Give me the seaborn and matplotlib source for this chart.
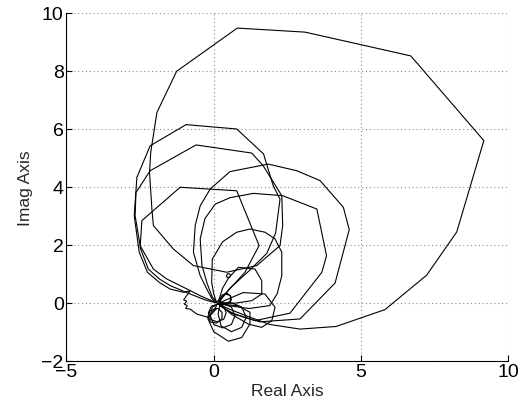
import matplotlib
matplotlib.use("Agg")
import numpy as np
import pandas as pd
import seaborn as sns
import matplotlib.pyplot as plt

# ---- traced Nyquist path pieces (Real, Imag) ----
big_re = [0.15, 0.60, 1.10, 1.90, 2.93, 4.15, 5.81, 7.23, 8.25, 9.17, 6.69, 3.10, 0.80, -1.26, -1.93,
          -2.14, -2.18, -2.10, -2.05, -1.37, -0.69, 0.44, 1.46, 2.25, 2.34, 2.31, 1.68, 1.29,
          -0.60, -2.16, -2.64, -2.67, -2.50, -2.05, -1.60, -1.14, -0.46, -0.10, 0.10]
big_im = [-0.05, -0.25, -0.45, -0.75, -0.91, -0.82, -0.24, 0.95, 2.44, 5.59, 8.51, 9.33, 9.47, 7.98, 6.56,
          5.18, 4.49, 3.23, 2.66, 1.85, 1.28, 1.05, 1.28, 1.97, 2.66, 3.69, 4.72, 5.16,
          5.44, 4.55, 3.80, 3.00, 1.97, 1.16, 0.82, 0.59, 0.24, 0.08, 0.00]

b_re = [0.20, 0.55, 1.20, 1.80, 2.10, 2.25, 2.02, 1.69, 0.78, -0.94, -2.16, -2.61, -2.70, -2.53,
        -2.25, -1.85, -1.48, -1.03, -0.80, -0.95, -1.02, -0.92, -1.00, -0.90, -0.95, -0.80, -0.58,
        -0.18, 0.10]
b_im = [0.05, 0.50, 1.10, 1.70, 2.40, 3.57, 4.03, 5.13, 5.99, 6.14, 5.41, 4.32, 3.00, 1.74,
        1.05, 0.70, 0.47, 0.36, 0.41, 0.20, 0.10, 0.05, -0.05, -0.10, -0.20, -0.22, -0.39,
        -0.51, -0.20]

d_re = [0.10, 0.44, 1.06, 1.54, 0.78, -1.14, -2.44, -2.50, -2.22, -1.85, -1.48, -0.80, -0.30, 0.05]
d_im = [0.02, 0.36, 1.05, 1.97, 3.86, 3.98, 2.83, 1.90, 1.16, 0.82, 0.59, 0.30, 0.10, 0.00]

e_re = [0.10, -0.05, -0.20, -0.46, -0.69, -0.63, -0.46, -0.12, 0.55, 1.85, 2.82, 3.61, 4.40, 4.60,
        4.12, 2.93, 1.57, 0.70, 0.20]
e_im = [0.00, 0.12, 0.40, 0.93, 1.74, 2.66, 3.34, 3.92, 4.52, 4.78, 4.55, 4.21, 3.29, 2.52,
        0.68, -0.56, -0.66, -0.40, -0.10]

f_re = [0.10, -0.05, -0.22, -0.40, -0.46, -0.30, 0.05, 0.55, 1.35, 2.34, 3.50, 3.83, 3.67, 2.59,
        1.40, 0.60, 0.20]
f_im = [0.00, 0.20, 0.65, 1.28, 2.20, 2.90, 3.40, 3.62, 3.77, 3.69, 3.23, 1.62, 1.05, -0.36,
        -0.62, -0.35, -0.10]

g_re = [0.10, 0.00, -0.07, -0.05, 0.30, 0.78, 1.23, 1.74, 2.08, 2.31, 2.31, 2.15, 1.90, 1.20, 0.50, 0.15]
g_im = [0.00, 0.30, 0.70, 1.50, 2.10, 2.43, 2.54, 2.43, 2.20, 1.74, 0.93, 0.30, -0.10, -0.20, -0.10, 0.00]

h_re = [0.15, 0.30, 0.50, 0.84, 1.40, 1.63, 1.63, 1.29, 0.70, 0.20]
h_im = [0.02, 0.50, 0.85, 1.22, 1.16, 0.76, 0.30, 0.07, -0.02, 0.00]

tiny_re = [0.43, 0.47, 0.55, 0.57, 0.52, 0.45, 0.43]
tiny_im = [0.93, 1.00, 0.99, 0.92, 0.86, 0.88, 0.93]

i_re = [0.20, 1.00, 1.74, 2.08, 1.97, 1.63, 1.18, 0.60, 0.20]
i_im = [0.00, 0.35, 0.30, -0.16, -0.62, -0.85, -0.74, -0.40, -0.05]

j_re = [0.10, -0.20, 0.00, 0.50, 0.95, 1.23, 1.23, 0.80, 0.20]
j_im = [-0.10, -0.55, -1.00, -1.33, -1.20, -0.73, -0.33, -0.10, -0.05]

k1_re = [0.15, -0.08, -0.18, -0.10, 0.12, 0.34, 0.42, 0.34, 0.15]
k1_im = [-0.05, -0.12, -0.35, -0.58, -0.66, -0.57, -0.35, -0.13, -0.05]
k2_re = [0.15, -0.05, -0.12, 0.00, 0.30, 0.60, 0.72, 0.60, 0.30, 0.15]
k2_im = [-0.03, -0.15, -0.45, -0.75, -0.87, -0.75, -0.45, -0.15, -0.03, -0.03]
k3_re = [0.20, 0.15, 0.25, 0.60, 0.95, 1.10, 0.95, 0.60, 0.20]
k3_im = [-0.10, -0.40, -0.80, -1.00, -0.85, -0.50, -0.15, 0.00, -0.10]
k4_re = [0.10, -0.13, -0.20, -0.10, 0.10, 0.28, 0.28, 0.15, 0.10]
k4_im = [-0.20, -0.28, -0.48, -0.67, -0.70, -0.55, -0.33, -0.20, -0.20]

c1_re = [0.20, 0.28, 0.45, 0.58, 0.56, 0.40, 0.25, 0.20]
c1_im = [0.05, 0.26, 0.33, 0.22, 0.04, -0.02, 0.02, 0.05]
c2_re = [0.22, 0.25, 0.40, 0.55, 0.60, 0.50, 0.30, 0.22]
c2_im = [0.00, 0.20, 0.30, 0.25, 0.10, -0.03, -0.03, 0.00]

pieces = {
    "big": (big_re, big_im), "b": (b_re, b_im), "d": (d_re, d_im), "e": (e_re, e_im),
    "f": (f_re, f_im), "g": (g_re, g_im), "h": (h_re, h_im), "tiny": (tiny_re, tiny_im),
    "i": (i_re, i_im), "j": (j_re, j_im), "k1": (k1_re, k1_im), "k2": (k2_re, k2_im),
    "k3": (k3_re, k3_im), "k4": (k4_re, k4_im), "c1": (c1_re, c1_im), "c2": (c2_re, c2_im),
}

rows = []
for name, (re, im) in pieces.items():
    for k, (x, y) in enumerate(zip(re, im)):
        rows.append({"piece": name, "order": k, "re": x, "im": y})
df = pd.DataFrame(rows)

xticks = [-5, 0, 5, 10]
yticks = [-2, 0, 2, 4, 6, 8, 10]

sns.set_theme(style="white")
plt.rcParams["font.family"] = ["Liberation Sans", "DejaVu Sans"]

fig = plt.figure(figsize=(5.21, 4.10), dpi=100)
ax = fig.add_axes([0.1276, 0.1178, 0.848, 0.8488])

sns.lineplot(data=df, x="re", y="im", units="piece", estimator=None, sort=False,
             color="black", linewidth=0.8, legend=False, ax=ax)

ax.set_xlim(-5, 10)
ax.set_ylim(-2, 10)
ax.set_xticks(xticks)
ax.set_yticks(yticks)
ax.set_xticklabels([str(t).replace("-", "\u2212") for t in xticks], fontsize=14)
ax.set_yticklabels([str(t).replace("-", "\u2212") for t in yticks], fontsize=14)
ax.set_xlabel("Real Axis", fontsize=12.5, labelpad=2)
ax.set_ylabel("Imag Axis", fontsize=12.5, labelpad=6)

ax.grid(True, color="#8c8c8c", linestyle=(0, (1, 2.5)), linewidth=0.8)
for s in ["top", "right"]:
    ax.spines[s].set_visible(False)
for s in ["left", "bottom"]:
    ax.spines[s].set_color("black")
    ax.spines[s].set_linewidth(0.8)
ax.tick_params(direction="in", length=4, width=0.8, colors="black", pad=2,
               left=True, bottom=True, top=False, right=False)

fig.savefig("out.png", dpi=100)
